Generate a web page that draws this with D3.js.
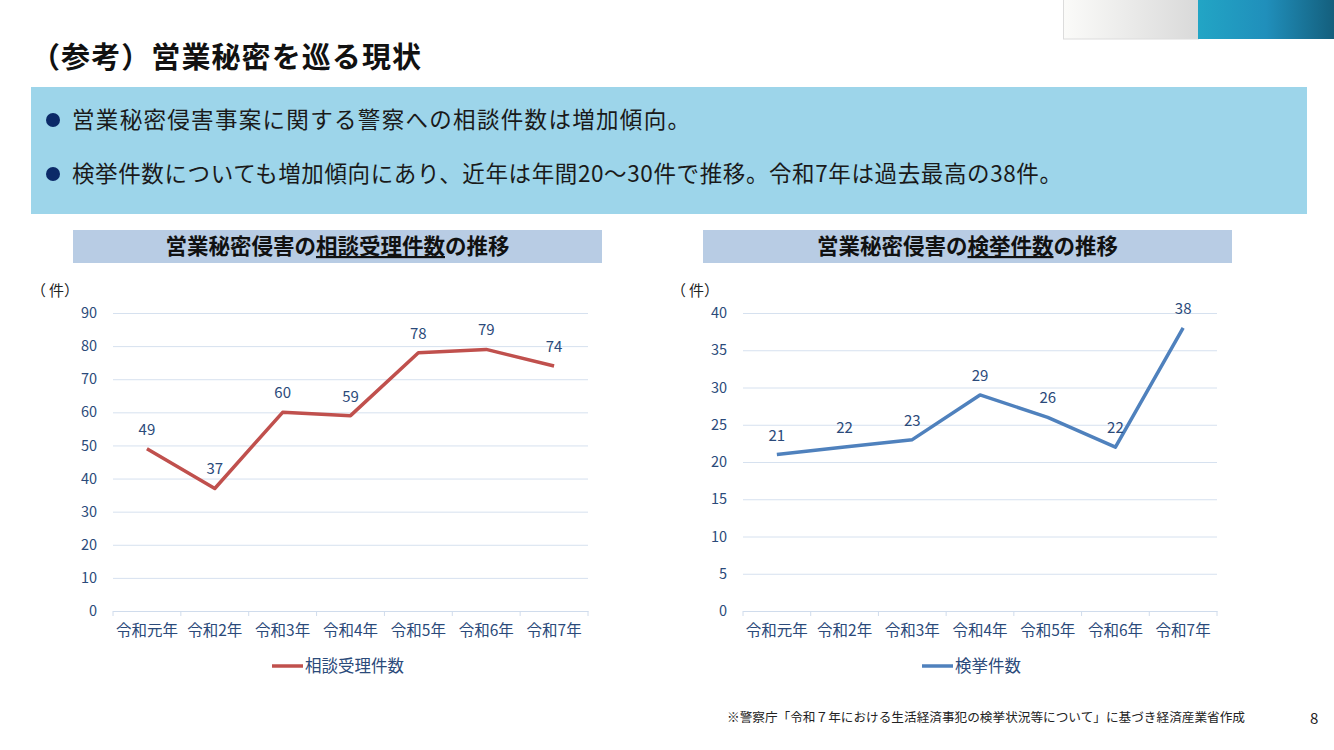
<!DOCTYPE html>
<html>
<head>
<meta charset="utf-8">
<script src="https://cdn.jsdelivr.net/npm/d3@7"></script>
<style>
	body { margin: 0; background: #fff; }
	svg { display: block; }
	text { font-family: "Noto Sans CJK JP", "Noto Sans", sans-serif; }
</style>
</head>
<body>
<div id="page"></div>
<script>

var categories = ["令和元年", "令和2年", "令和3年", "令和4年", "令和5年", "令和6年", "令和7年"];
var consultValues = [49, 37, 60, 59, 78, 79, 74];
var arrestValues = [21, 22, 23, 29, 26, 22, 38];
var consultTicks = [0, 10, 20, 30, 40, 50, 60, 70, 80, 90];
var arrestTicks = [0, 5, 10, 15, 20, 25, 30, 35, 40];

var textBlue = "#2b4a7a";

var svg = d3.select("#page")
	.append("svg")
	.attr("width", 1334)
	.attr("height", 750);

var defs = svg.append("defs");

var g1 = defs.append("linearGradient").attr("id", "greyGrad");
g1.append("stop").attr("offset", "0%").attr("stop-color", "#fbfbf9");
g1.append("stop").attr("offset", "100%").attr("stop-color", "#d9d9d9");

var g2 = defs.append("linearGradient").attr("id", "blueGrad");
g2.append("stop").attr("offset", "0%").attr("stop-color", "#22a5c5");
g2.append("stop").attr("offset", "50%").attr("stop-color", "#208fbb");
g2.append("stop").attr("offset", "100%").attr("stop-color", "#145f7d");

// top right decoration
svg.append("rect")
	.attr("x", 1063.5).attr("y", -1)
	.attr("width", 135).attr("height", 40)
	.attr("fill", "url(#greyGrad)")
	.attr("stroke", "#dcdcdc");

svg.append("rect")
	.attr("x", 1198).attr("y", 0)
	.attr("width", 136).attr("height", 39)
	.attr("fill", "url(#blueGrad)");

// title
svg.append("text")
	.attr("x", 31).attr("y", 68)
	.attr("font-size", 29)
	.attr("font-weight", "bold")
	.attr("fill", "#111")
	.attr("textLength", 390)
	.attr("lengthAdjust", "spacing")
	.text("（参考）営業秘密を巡る現状");

// summary box
svg.append("rect")
	.attr("x", 31).attr("y", 87)
	.attr("width", 1276).attr("height", 127)
	.attr("fill", "#9dd5ea");

var bullets = [
	{ y: 120, t: "営業秘密侵害事案に関する警察への相談件数は増加傾向。", w: 618 },
	{ y: 174, t: "検挙件数についても増加傾向にあり、近年は年間20～30件で推移。令和7年は過去最高の38件。", w: 990 }
];

bullets.forEach(function(b) {
	svg.append("circle")
		.attr("cx", 53).attr("cy", b.y)
		.attr("r", 7)
		.attr("fill", "#0c2a68");
	svg.append("text")
		.attr("x", 72).attr("y", b.y + 8)
		.attr("font-size", 22.5)
		.attr("fill", "#1a1a1a")
		.attr("textLength", b.w)
		.attr("lengthAdjust", "spacing")
		.text(b.t);
});

function header(x, pre, mid, post) {
	svg.append("rect")
		.attr("x", x).attr("y", 230)
		.attr("width", 529).attr("height", 33)
		.attr("fill", "#b8cce4");
	var t = svg.append("text")
		.attr("x", x + 264.5).attr("y", 254)
		.attr("text-anchor", "middle")
		.attr("font-size", 21.5)
		.attr("font-weight", "bold")
		.attr("fill", "#111");
	t.append("tspan").text(pre);
	t.append("tspan").attr("text-decoration", "underline").text(mid);
	t.append("tspan").text(post);
}

header(73, "営業秘密侵害の", "相談受理件数", "の推移");
header(703, "営業秘密侵害の", "検挙件数", "の推移");

function lineChart(opt) {

	var x = d3.scaleBand()
		.domain(categories)
		.range([opt.left, opt.right]);

	var y = d3.scaleLinear()
		.domain([0, opt.max])
		.range([611, 313]);

	var chart = svg.append("g");

	// unit label, spaced out like the original's wide brackets
	var unit = chart.append("text")
		.attr("y", 296)
		.attr("font-size", 15)
		.attr("fill", "#222");
	unit.append("tspan").attr("x", opt.unitX).text("（");
	unit.append("tspan").attr("x", opt.unitX + 18).text("件");
	unit.append("tspan").attr("x", opt.unitX + 33).text("）");

	// gridlines + y labels
	var yAxis = chart.append("g")
		.attr("transform", "translate(" + opt.left + ",0)")
		.call(d3.axisLeft(y)
			.tickValues(opt.ticks)
			.tickSize(-(opt.right - opt.left))
			.tickPadding(16));

	yAxis.select(".domain").remove();
	yAxis.selectAll("line").attr("stroke", "#d6e1ef").attr("stroke-width", 1);
	yAxis.selectAll("text")
		.attr("font-size", 14.5)
		.attr("fill", textBlue)
		.style("font-family", "'Noto Sans CJK JP', sans-serif");

	// x axis
	var xAxis = chart.append("g")
		.attr("transform", "translate(0,611)")
		.call(d3.axisBottom(x).tickSize(0).tickPadding(14));

	xAxis.select(".domain").attr("stroke", "#d0dcec");
	xAxis.selectAll("text")
		.attr("font-size", 15.5)
		.attr("fill", textBlue)
		.style("font-family", "'Noto Sans CJK JP', sans-serif");

	var tickXs = categories.map(function(c) { return x(c); }).concat([opt.right]);
	chart.append("g")
		.selectAll("line")
		.data(tickXs)
		.enter()
		.append("line")
		.attr("x1", function(d) { return d; })
		.attr("x2", function(d) { return d; })
		.attr("y1", 611)
		.attr("y2", 616)
		.attr("stroke", "#d0dcec");

	var line = d3.line()
		.x(function(d, i) { return x(categories[i]) + x.bandwidth() / 2; })
		.y(function(d) { return y(d); });

	chart.append("path")
		.datum(opt.values)
		.attr("d", line)
		.attr("fill", "none")
		.attr("stroke", opt.color)
		.attr("stroke-width", 3.5)
		.attr("stroke-linejoin", "round");

	chart.append("g")
		.selectAll("text")
		.data(opt.values)
		.enter()
		.append("text")
		.attr("x", function(d, i) { return x(categories[i]) + x.bandwidth() / 2; })
		.attr("y", function(d) { return y(d) - 14; })
		.attr("text-anchor", "middle")
		.attr("font-size", 15)
		.attr("fill", textBlue)
		.text(function(d) { return d; });

	// legend
	chart.append("line")
		.attr("x1", opt.legendX).attr("x2", opt.legendX + 31)
		.attr("y1", 666).attr("y2", 666)
		.attr("stroke", opt.color)
		.attr("stroke-width", 3.5);

	chart.append("text")
		.attr("x", opt.legendX + 33).attr("y", 672)
		.attr("font-size", 16.5)
		.attr("fill", textBlue)
		.text(opt.name);
}

lineChart({
	left: 113, right: 588, max: 90, ticks: consultTicks,
	values: consultValues, color: "#c0504d",
	unitX: 31, legendX: 272, name: "相談受理件数"
});

lineChart({
	left: 743, right: 1217, max: 40, ticks: arrestTicks,
	values: arrestValues, color: "#4f81bd",
	unitX: 671, legendX: 922, name: "検挙件数"
});

// footnote
svg.append("text")
	.attr("x", 727).attr("y", 722)
	.attr("font-size", 12.5)
	.attr("fill", "#222")
	.attr("textLength", 518)
	.attr("lengthAdjust", "spacingAndGlyphs")
	.text("※警察庁「令和７年における生活経済事犯の検挙状況等について」に基づき経済産業省作成");

svg.append("text")
	.attr("x", 1310).attr("y", 724)
	.attr("font-size", 15)
	.attr("fill", "#222")
	.text("8");

</script>
</body>
</html>
